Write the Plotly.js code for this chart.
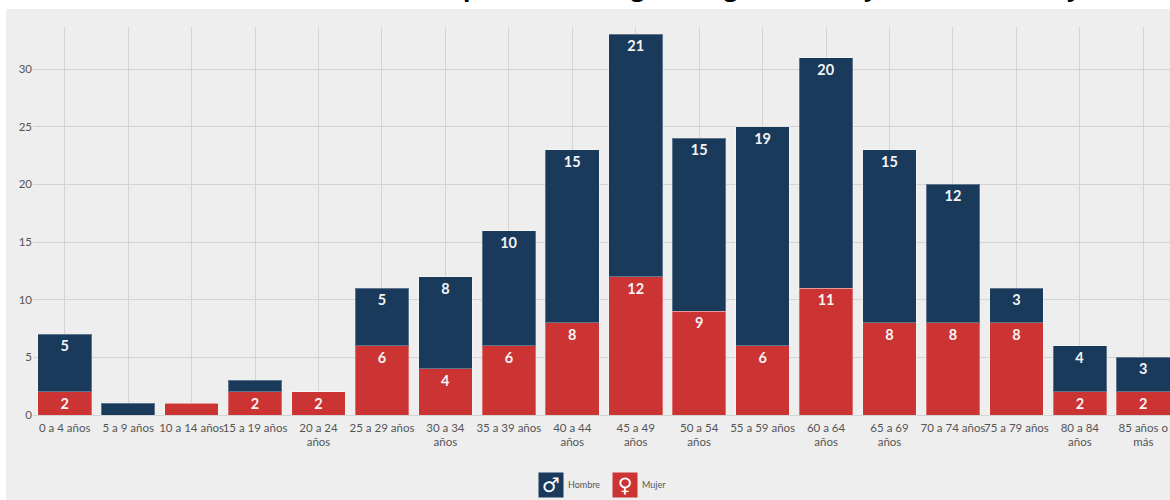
<!DOCTYPE html>
<html><head><meta charset="utf-8">
<script src="https://cdn.plot.ly/plotly-3.0.1.min.js"></script>
<style>
html,body{margin:0;padding:0;background:#fff;width:1170px;height:500px;overflow:hidden}
#panel{position:absolute;left:6px;top:9px;width:1164px;height:491px;background:#eeeeee}
#chart{position:absolute;left:0;top:0}
</style></head><body>
<div id="panel"></div><div id="chart"></div>
<script>
const categories=["0 a 4 años","5 a 9 años","10 a 14 años","15 a 19 años","20 a 24<br>años","25 a 29 años","30 a 34<br>años","35 a 39 años","40 a 44<br>años","45 a 49<br>años","50 a 54<br>años","55 a 59 años","60 a 64<br>años","65 a 69<br>años","70 a 74 años","75 a 79 años","80 a 84<br>años","85 años o<br>más"];
const mujer=[2,0,1,2,2,6,4,6,8,12,9,6,11,8,8,8,2,2];
const hombre=[5,1,0,1,0,5,8,10,15,21,15,19,20,15,12,3,4,3];
const yTicks=[0,5,10,15,20,25,30];
const titleGlyphs=[["p",470.5],["g",638],["g",731],["y",871],["y",1074]];
const FONT='Lato,"Roboto",sans-serif';
const NAVY='#1a3a5c',RED='#cc3333',W=1200,H=500,L=32.5,R=25,T=27,B=85;
const px=x=>(x-L)/(W-L-R), py=y=>(H-B-y)/(H-T-B);
const label=v=>v.map(n=>n>=2?String(n):'');
function bar(name,vals,color){return{type:'bar',name,x:categories,y:vals,text:label(vals),
 textposition:'inside',insidetextanchor:'end',textangle:0,constraintext:'none',cliponaxis:false,
 textfont:{family:FONT,size:14.5,weight:700,color:'#f4f4f4'},
 marker:{color,line:{color:'rgba(255,255,255,0.3)',width:1}},hoverinfo:'skip'};}
const ann=[
 {xref:'paper',yref:'paper',x:px(551),y:py(485),xanchor:'center',yanchor:'middle',text:'♂',showarrow:false,bgcolor:NAVY,width:24,height:24,borderpad:0,
  font:{family:'DejaVu Sans',size:20,color:'#fff'}},
 {xref:'paper',yref:'paper',x:px(625),y:py(485),xanchor:'center',yanchor:'middle',text:'♀',showarrow:false,bgcolor:RED,width:24,height:24,borderpad:0,
  font:{family:'DejaVu Sans',size:20,color:'#fff'}},
 {xref:'paper',yref:'paper',x:px(566),y:py(484),xanchor:'left',yanchor:'middle',text:'Hombre',showarrow:false,
  font:{family:FONT,size:9,color:'#555'}},
 {xref:'paper',yref:'paper',x:px(640),y:py(484),xanchor:'left',yanchor:'middle',text:'Mujer',showarrow:false,
  font:{family:FONT,size:9,color:'#555'}},
 ...titleGlyphs.map(([t,x])=>({xref:'paper',yref:'paper',x:px(x),y:py(-13),xanchor:'center',yanchor:'middle',text:'<b>'+t+'</b>',showarrow:false,
  font:{family:'"Open Sans",sans-serif',size:24,color:'#000'}}))
];
Plotly.newPlot('chart',[bar('Mujer',mujer,RED),bar('Hombre',hombre,NAVY)],{
 width:W,height:H,barmode:'stack',bargap:0.155,showlegend:false,
 paper_bgcolor:'rgba(0,0,0,0)',plot_bgcolor:'rgba(0,0,0,0)',
 margin:{l:L,r:R,t:T,b:B,pad:0},
 font:{family:FONT,size:11.5,color:'#555'},
 xaxis:{type:'category',categoryorder:'array',categoryarray:categories,range:[-0.5,17.5],tickangle:0,
  showgrid:true,gridcolor:'#d4d4d4',gridwidth:1,showline:false,zeroline:false,ticks:'',ticklabelstandoff:4,
  tickfont:{family:FONT,size:11.5,color:'#555'}},
 yaxis:{range:[0,33.65],tickvals:yTicks,ticktext:yTicks.map(String),showgrid:true,gridcolor:'#d4d4d4',gridwidth:1,
  zeroline:true,zerolinecolor:'#d4d4d4',zerolinewidth:1,showline:false,ticks:'',ticklen:0,
  tickfont:{family:FONT,size:11.5,color:'#555'}},
 annotations:ann
},{displayModeBar:false,staticPlot:true});
</script></body></html>
